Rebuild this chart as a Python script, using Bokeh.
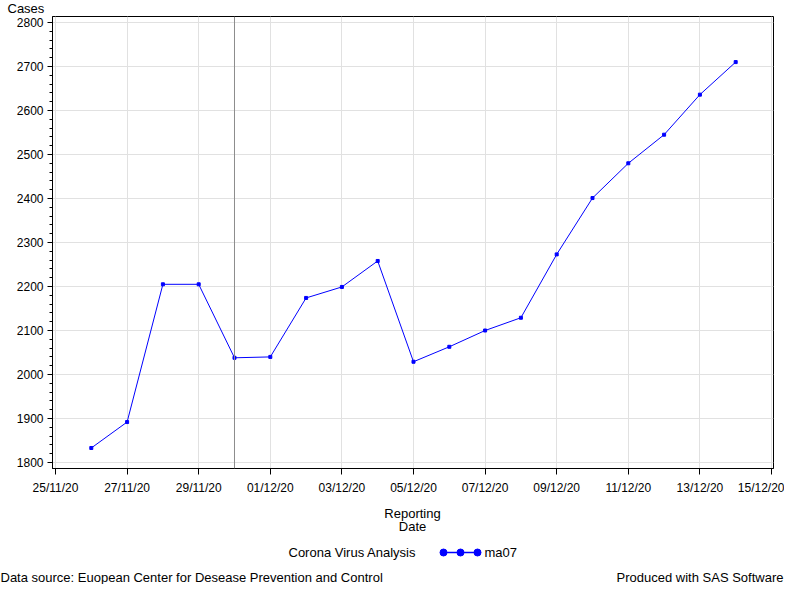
import pandas as pd
from bokeh.plotting import figure
from bokeh.layouts import column
from bokeh.models import (Range1d, FixedTicker, DatetimeTickFormatter,
                          SingleIntervalTicker, Span, ColumnDataSource)
from bokeh.core.properties import value
from bokeh.embed import file_html
from bokeh.resources import INLINE

# ---- data ----
dates = ["2020-11-26", "2020-11-27", "2020-11-28", "2020-11-29", "2020-11-30",
         "2020-12-01", "2020-12-02", "2020-12-03", "2020-12-04", "2020-12-05",
         "2020-12-06", "2020-12-07", "2020-12-08", "2020-12-09", "2020-12-10",
         "2020-12-11", "2020-12-12", "2020-12-13", "2020-12-14"]
ma07 = [1833, 1892, 2205, 2205, 2038, 2040, 2174, 2199, 2258, 2029,
        2063, 2100, 2129, 2273, 2401, 2480, 2545, 2636, 2710]
tick_dates = ["2020-11-25", "2020-11-27", "2020-11-29", "2020-12-01",
              "2020-12-03", "2020-12-05", "2020-12-07", "2020-12-09",
              "2020-12-11", "2020-12-13", "2020-12-15"]
ref_date = "2020-11-30"
series_name = "ma07"
legend_title = "Corona Virus Analysis"
y_title = "Cases"
x_title = ["Reporting", "Date"]
footnote_left = "Data source: Euopean Center for Desease Prevention and Control"
footnote_right = "Produced with SAS Software"

FONT = value("Liberation Sans")
FS = "12px"
FS2 = "13px"
W = 784

def ms(d):
    return pd.Timestamp(d).value / 1e6

xs = [ms(d) for d in dates]
ticks = [ms(t) for t in tick_dates]
day = 86400000.0
x_start = ticks[0] - 0.0838 * day
x_end = ticks[-1] + 0.0559 * day

txt = dict(text_font=FONT, text_font_size=FS2, text_color="black",
           text_baseline="middle")

def blank(h):
    f = figure(width=W, height=h, x_range=Range1d(0, W), y_range=Range1d(h, 0),
               output_backend="svg", toolbar_location=None, title=None,
               x_axis_location=None, y_axis_location=None,
               min_border_left=0, min_border_right=0, min_border_top=0,
               min_border_bottom=0)
    f.grid.visible = False
    f.outline_line_color = None
    f.background_fill_color = "white"
    f.border_fill_color = "white"
    f.frame_align = False
    return f

# ---- top strip: y title ----
t = blank(14)
t.text(x=[7], y=[7.5], text=[y_title], text_align="left", **txt)

# ---- main chart ----
src = ColumnDataSource(dict(x=xs, y=ma07))

p = figure(width=W, height=490, x_axis_type="datetime",
           x_range=Range1d(x_start, x_end), y_range=Range1d(1786.4, 2813.6),
           output_backend="svg", toolbar_location=None, title=None,
           min_border_left=52, min_border_right=11, min_border_top=2,
           min_border_bottom=36)
p.frame_align = False
p.background_fill_color = "white"
p.border_fill_color = "white"
p.outline_line_color = "black"
p.outline_line_width = 1
p.outline_line_alpha = 1

p.line("x", "y", source=src, line_color="#0000ff", line_width=1)
p.scatter("x", "y", source=src, marker="square", size=3,
          fill_color="#0000ff", line_color="#0000ff")

p.add_layout(Span(location=ms(ref_date), dimension="height",
                  line_color="#8c8c8c", line_width=1))

xa = p.xaxis[0]
xa.ticker = FixedTicker(ticks=ticks, minor_ticks=[])
fmt = "%d/%m/%y"
xa.formatter = DatetimeTickFormatter(
    microseconds=fmt, milliseconds=fmt, seconds=fmt, minsec=fmt, minutes=fmt,
    hourmin=fmt, hours=fmt, days=fmt, months=fmt, years=fmt,
    strip_leading_zeros=False)
xa.major_tick_out = 6
xa.major_tick_in = 0
xa.minor_tick_out = 0
xa.minor_tick_in = 0
xa.major_label_standoff = 6

ya = p.yaxis[0]
ya.ticker = SingleIntervalTicker(interval=100, num_minor_ticks=5)
ya.major_tick_out = 5
ya.major_tick_in = 0
ya.minor_tick_out = 3
ya.minor_tick_in = 0
ya.major_label_standoff = 4

for ax in (xa, ya):
    ax.axis_line_color = "black"
    ax.axis_line_width = 1
    ax.major_tick_line_color = "black"
    ax.minor_tick_line_color = "black"
    ax.major_label_text_font = "Liberation Sans"
    ax.major_label_text_font_size = FS
    ax.major_label_text_color = "black"

p.xgrid.grid_line_color = "#e1e1e1"
p.ygrid.grid_line_color = "#e1e1e1"
p.xgrid.ticker = xa.ticker
p.ygrid.ticker = ya.ticker

# ---- bottom panel: axis title, legend, footnotes ----
q = blank(80)
q.text(x=[412, 412], y=[8.5, 22], text=x_title, text_align="center", **txt)
q.text(x=[288], y=[48], text=[legend_title], text_align="left", **txt)
q.line(x=[443, 477], y=[48, 48], line_color="#0000ff", line_width=1.5)
q.scatter(x=[443, 460, 477], y=[48, 48, 48], marker="circle", size=7,
          fill_color="#0000ff", line_color="#0000ff")
q.text(x=[484], y=[48], text=[series_name], text_align="left", **txt)
q.text(x=[0], y=[73], text=[footnote_left], text_align="left", **txt)
q.text(x=[783], y=[73], text=[footnote_right], text_align="right", **txt)

layout = column(t, p, q, spacing=0)
open("out.html", "w").write(file_html(layout, INLINE))
